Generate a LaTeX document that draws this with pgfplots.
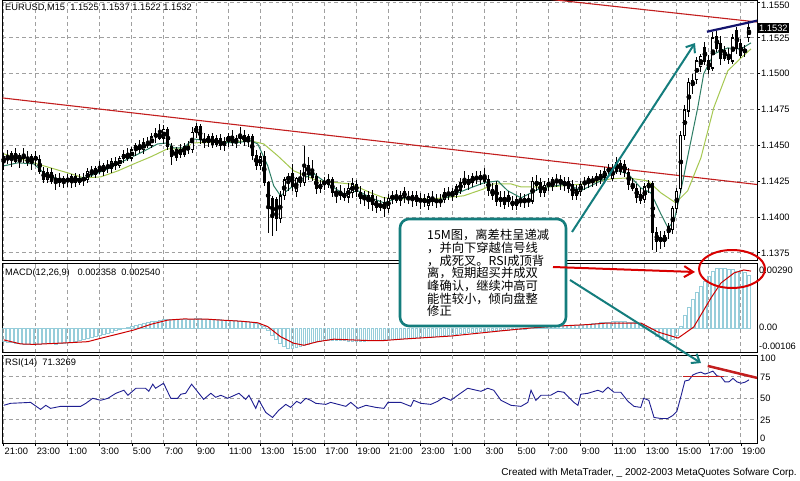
\documentclass[border=0pt]{standalone}
\usepackage{fontspec}
\setmainfont{Liberation Sans}
\newfontfamily\cjk{Noto Sans CJK SC}
\usepackage{pgfplots}
\usepackage{pgfplotstable}
\pgfplotsset{compat=1.18}
\usetikzlibrary{arrows.meta}

\definecolor{gridc}{RGB}{160,160,160}
\definecolor{trend}{RGB}{195,30,30}
\definecolor{mafast}{RGB}{45,125,100}
\definecolor{maslow}{RGB}{165,200,80}
\definecolor{histc}{RGB}{150,205,218}
\definecolor{sigc}{RGB}{205,0,0}
\definecolor{rsic}{RGB}{30,30,145}
\definecolor{tealc}{RGB}{20,125,125}
\definecolor{navyc}{RGB}{20,20,110}

\newcommand\mt{\fontsize{9.3pt}{11pt}\selectfont}

% M15 candles: bar index, open, high, low, close
\pgfplotstableread{
b o h l c
0 1.1438 1.1445 1.1433 1.1442
1 1.1442 1.1447 1.1437 1.1440
2 1.1440 1.1446 1.1435 1.1444
3 1.1444 1.1448 1.1438 1.1439
4 1.1439 1.1445 1.1434 1.1443
5 1.1443 1.1448 1.1438 1.1441
6 1.1441 1.1446 1.1436 1.1438
7 1.1438 1.1444 1.1433 1.1442
8 1.1442 1.1446 1.1436 1.1440
9 1.1440 1.1443 1.1430 1.1432
10 1.1432 1.1435 1.1424 1.1426
11 1.1426 1.1434 1.1424 1.1431
12 1.1431 1.1434 1.1423 1.1425
13 1.1425 1.1430 1.1419 1.1427
14 1.1427 1.1431 1.1421 1.1424
15 1.1424 1.1429 1.1420 1.1427
16 1.1427 1.1430 1.1421 1.1425
17 1.1425 1.1430 1.1420 1.1428
18 1.1428 1.1431 1.1421 1.1424
19 1.1424 1.1430 1.1422 1.1427
20 1.1427 1.1431 1.1422 1.1426
21 1.1426 1.1434 1.1424 1.1432
22 1.1432 1.1436 1.1428 1.1430
23 1.1430 1.1436 1.1427 1.1434
24 1.1434 1.1439 1.1430 1.1432
25 1.1432 1.1438 1.1429 1.1436
26 1.1436 1.1440 1.1431 1.1434
27 1.1434 1.1441 1.1431 1.1439
28 1.1439 1.1442 1.1433 1.1436
29 1.1436 1.1443 1.1434 1.1441
30 1.1441 1.1447 1.1438 1.1444
31 1.1444 1.1448 1.1439 1.1441
32 1.1441 1.1449 1.1439 1.1447
33 1.1447 1.1452 1.1443 1.1450
34 1.1450 1.1454 1.1445 1.1447
35 1.1447 1.1455 1.1444 1.1452
36 1.1452 1.1456 1.1448 1.1450
37 1.1450 1.1459 1.1448 1.1456
38 1.1456 1.1462 1.1452 1.1458
39 1.1458 1.1465 1.1454 1.1455
40 1.1455 1.1464 1.1451 1.1461
41 1.1461 1.1463 1.1447 1.1449
42 1.1449 1.1452 1.1436 1.1442
43 1.1442 1.1449 1.1439 1.1447
44 1.1447 1.1451 1.1441 1.1444
45 1.1444 1.1452 1.1442 1.1449
46 1.1449 1.1453 1.1444 1.1447
47 1.1447 1.1463 1.1445 1.1459
48 1.1459 1.1466 1.1455 1.1463
49 1.1463 1.1465 1.1451 1.1454
50 1.1454 1.1459 1.1448 1.1452
51 1.1452 1.1458 1.1449 1.1456
52 1.1456 1.1459 1.1448 1.1451
53 1.1451 1.1457 1.1449 1.1455
54 1.1455 1.1458 1.1447 1.1450
55 1.1450 1.1456 1.1446 1.1453
56 1.1453 1.1459 1.1449 1.1456
57 1.1456 1.1461 1.1450 1.1452
58 1.1452 1.1457 1.1448 1.1455
59 1.1455 1.1463 1.1451 1.1457
60 1.1457 1.1461 1.1450 1.1453
61 1.1453 1.1458 1.1449 1.1456
62 1.1456 1.1458 1.1440 1.1443
63 1.1443 1.1447 1.1433 1.1436
64 1.1436 1.1445 1.1433 1.1442
65 1.1442 1.1446 1.1422 1.1424
66 1.1424 1.1425 1.1389 1.1406
67 1.1413 1.1415 1.1387 1.1400
68 1.1412 1.1414 1.1390 1.1399
69 1.1399 1.1418 1.1396 1.1415
70 1.1415 1.1428 1.1412 1.1426
71 1.1426 1.1431 1.1418 1.1428
72 1.1430 1.1437 1.1418 1.1421
73 1.1418 1.1428 1.1414 1.1427
74 1.1427 1.1433 1.1421 1.1424
75 1.1424 1.1450 1.1422 1.1436
76 1.1436 1.1442 1.1426 1.1430
77 1.1433 1.1440 1.1425 1.1428
78 1.1428 1.1431 1.1416 1.1420
79 1.1420 1.1426 1.1417 1.1423
80 1.1423 1.1428 1.1419 1.1425
81 1.1423 1.1430 1.1420 1.1426
82 1.1426 1.1428 1.1414 1.1417
83 1.1416 1.1421 1.1410 1.1418
84 1.1418 1.1422 1.1412 1.1415
85 1.1416 1.1420 1.1411 1.1414
86 1.1414 1.1424 1.1410 1.1420
87 1.1417 1.1427 1.1413 1.1423
88 1.1423 1.1426 1.1414 1.1418
89 1.1417 1.1422 1.1409 1.1413
90 1.1413 1.1418 1.1408 1.1415
91 1.1411 1.1418 1.1406 1.1415
92 1.1415 1.1419 1.1404 1.1409
93 1.1411 1.1415 1.1403 1.1407
94 1.1407 1.1412 1.1404 1.1409
95 1.1410 1.1414 1.1400 1.1406
96 1.1406 1.1416 1.1403 1.1413
97 1.1413 1.1418 1.1409 1.1415
98 1.1415 1.1419 1.1410 1.1412
99 1.1412 1.1418 1.1408 1.1415
100 1.1418 1.1421 1.1410 1.1414
101 1.1414 1.1418 1.1409 1.1412
102 1.1412 1.1418 1.1407 1.1415
103 1.1415 1.1418 1.1408 1.1411
104 1.1411 1.1417 1.1406 1.1413
105 1.1413 1.1416 1.1407 1.1410
106 1.1408 1.1417 1.1405 1.1414
107 1.1414 1.1418 1.1408 1.1411
108 1.1411 1.1416 1.1406 1.1412
109 1.1412 1.1416 1.1407 1.1410
110 1.1412 1.1420 1.1410 1.1417
111 1.1417 1.1421 1.1412 1.1415
112 1.1415 1.1420 1.1411 1.1418
113 1.1416 1.1423 1.1413 1.1421
114 1.1419 1.1427 1.1416 1.1424
115 1.1426 1.1432 1.1420 1.1423
116 1.1423 1.1429 1.1419 1.1426
117 1.1424 1.1431 1.1421 1.1428
118 1.1428 1.1432 1.1423 1.1426
119 1.1426 1.1432 1.1422 1.1429
120 1.1429 1.1434 1.1423 1.1425
121 1.1426 1.1429 1.1415 1.1419
122 1.1419 1.1424 1.1412 1.1415
123 1.1422 1.1425 1.1408 1.1411
124 1.1411 1.1418 1.1407 1.1414
125 1.1414 1.1418 1.1406 1.1409
126 1.1415 1.1418 1.1407 1.1411
127 1.1411 1.1415 1.1405 1.1408
128 1.1408 1.1415 1.1405 1.1412
129 1.1412 1.1417 1.1407 1.1410
130 1.1410 1.1416 1.1406 1.1413
131 1.1413 1.1416 1.1407 1.1411
132 1.1411 1.1428 1.1409 1.1425
133 1.1425 1.1429 1.1418 1.1422
134 1.1424 1.1427 1.1414 1.1417
135 1.1417 1.1425 1.1414 1.1422
136 1.1422 1.1427 1.1418 1.1424
137 1.1421 1.1428 1.1418 1.1426
138 1.1426 1.1430 1.1421 1.1424
139 1.1424 1.1429 1.1419 1.1426
140 1.1422 1.1428 1.1418 1.1425
141 1.1425 1.1428 1.1417 1.1420
142 1.1423 1.1426 1.1412 1.1415
143 1.1415 1.1422 1.1412 1.1419
144 1.1418 1.1425 1.1415 1.1423
145 1.1423 1.1428 1.1419 1.1425
146 1.1424 1.1429 1.1420 1.1427
147 1.1425 1.1429 1.1421 1.1426
148 1.1426 1.1431 1.1422 1.1428
149 1.1426 1.1433 1.1423 1.1430
150 1.1428 1.1435 1.1424 1.1432
151 1.1432 1.1437 1.1428 1.1434
152 1.1427 1.1437 1.1425 1.1434
153 1.1438 1.1442 1.1430 1.1432
154 1.1432 1.1440 1.1429 1.1437
155 1.1437 1.1440 1.1428 1.1431
156 1.1431 1.1434 1.1419 1.1423
157 1.1423 1.1427 1.1418 1.1420
158 1.1420 1.1423 1.1410 1.1414
159 1.1416 1.1420 1.1409 1.1412
160 1.1412 1.1424 1.1410 1.1421
161 1.1421 1.1426 1.1417 1.1423
162 1.1423 1.1425 1.1377 1.1389
163 1.1389 1.1393 1.1376 1.1383
164 1.1383 1.1390 1.1378 1.1386
165 1.1383 1.1390 1.1379 1.1387
166 1.1393 1.1396 1.1385 1.1389
167 1.1391 1.1408 1.1388 1.1406
168 1.1406 1.1420 1.1403 1.1418
169 1.1420 1.1460 1.1417 1.1457
170 1.1457 1.1478 1.1454 1.1475
171 1.1474 1.1497 1.1470 1.1494
172 1.1492 1.1500 1.1486 1.1495
173 1.1496 1.1512 1.1493 1.1509
174 1.1505 1.1514 1.1501 1.1512
175 1.1518 1.1522 1.1506 1.1509
176 1.1509 1.1513 1.1500 1.1503
177 1.1504 1.1529 1.1502 1.1525
178 1.1526 1.1530 1.1515 1.1518
179 1.1521 1.1526 1.1506 1.1511
180 1.1516 1.1519 1.1509 1.1511
181 1.1513 1.1518 1.1507 1.1510
182 1.1509 1.1528 1.1507 1.1525
183 1.1530 1.1533 1.1514 1.1518
184 1.1521 1.1524 1.1511 1.1513
185 1.1515 1.1520 1.1512 1.1517
186 1.1525 1.1537 1.1522 1.1532
}\candles

% MACD(12,26,9) main value per bar
\pgfplotstableread{
v
-0.00060
-0.00062
-0.00064
-0.00066
-0.00068
-0.00070
-0.00072
-0.00073
-0.00072
-0.00070
-0.00068
-0.00068
-0.00069
-0.00070
-0.00069
-0.00067
-0.00065
-0.00062
-0.00060
-0.00056
-0.00052
-0.00047
-0.00042
-0.00037
-0.00032
-0.00027
-0.00022
-0.00017
-0.00012
-0.00007
-0.00002
0.00003
0.00008
0.00012
0.00016
0.00020
0.00024
0.00028
0.00031
0.00034
0.00037
0.00038
0.00038
0.00037
0.00037
0.00038
0.00039
0.00041
0.00042
0.00042
0.00041
0.00040
0.00039
0.00038
0.00037
0.00036
0.00035
0.00034
0.00033
0.00032
0.00031
0.00030
0.00027
0.00022
0.00016
0.00008
-0.00010
-0.00030
-0.00050
-0.00068
-0.00080
-0.00088
-0.00090
-0.00087
-0.00082
-0.00076
-0.00070
-0.00065
-0.00061
-0.00058
-0.00056
-0.00055
-0.00054
-0.00054
-0.00055
-0.00056
-0.00057
-0.00058
-0.00058
-0.00058
-0.00057
-0.00056
-0.00055
-0.00054
-0.00053
-0.00052
-0.00051
-0.00050
-0.00049
-0.00048
-0.00046
-0.00045
-0.00044
-0.00043
-0.00042
-0.00041
-0.00040
-0.00039
-0.00037
-0.00035
-0.00033
-0.00031
-0.00029
-0.00027
-0.00025
-0.00023
-0.00021
-0.00019
-0.00017
-0.00015
-0.00014
-0.00013
-0.00012
-0.00011
-0.00010
-0.00009
-0.00008
-0.00007
-0.00006
-0.00005
-0.00004
-0.00003
-0.00001
0.00002
0.00004
0.00006
0.00008
0.00010
0.00011
0.00012
0.00012
0.00012
0.00012
0.00013
0.00014
0.00016
0.00018
0.00020
0.00022
0.00024
0.00026
0.00027
0.00028
0.00029
0.00029
0.00028
0.00026
0.00024
0.00020
0.00015
0.00012
0.00005
-0.00015
-0.00035
-0.00048
-0.00054
-0.00055
-0.00048
-0.00030
0.00010
0.00059
0.00094
0.00128
0.00160
0.00186
0.00208
0.00232
0.00252
0.00264
0.00268
0.00266
0.00262
0.00260
0.00252
0.00255
0.00246
0.00236
}\macdhist

\tikzset{gridline/.style={draw=gridc, line width=1pt, dash pattern=on 3.5pt off 3pt}}

\pgfplotsset{
  mtpanel/.style={
    scale only axis, width=754.5pt,
    xmin=-0.3, xmax=188,
    axis line style={line width=0.9pt},
    xtick={0,8,...,184}, xticklabels={},
    tick align=outside, major tick length=3pt,
    xmajorticks=false,
  },
  candle/.style={only marks, mark=none, forget plot,
    error bars/.cd, y dir=both, y explicit, error mark=none},
}
% vertical time grid: every two hours (8 bars)
\newcommand\timegrid[2]{%
  \pgfplotsinvokeforeach{0,8,...,184}{\draw[gridline] (axis cs:##1,#1) -- (axis cs:##1,#2);}}

\begin{document}
\begin{tikzpicture}
\path[use as bounding box, fill=white] (0,0) rectangle (800pt,-481pt);

% ---- price panel ----
\begin{axis}[mtpanel, at={(2.5pt,-260pt)}, anchor=south west,
  height=259.5pt, ymin=1.1370, ymax=1.15511,
  ytick={1.1375,1.14,1.1425,1.145,1.1475,1.15,1.1525,1.155},
  yticklabels={1.1375,1.1400,1.1425,1.1450,1.1475,1.1500,1.1525,},
  ytick pos=right, yticklabel pos=right,
  ytick style={black, line width=0.8pt, solid},
  yticklabel style={font=\mt, anchor=west, inner xsep=1pt}]
\timegrid{1.1370}{1.15511}
\pgfplotsinvokeforeach{1.1375,1.14,1.1425,1.145,1.1475,1.15,1.1525,1.155}{
  \draw[gridline] (axis cs:-0.3,#1) -- (axis cs:188,#1);}
% trend lines
\addplot[trend, line width=1.1pt] coordinates {(-0.3,1.14831) (188,1.14227)};
\addplot[trend, line width=1.1pt] coordinates {(134.1,1.15526) (188,1.15361)};
% moving averages
\addplot[maslow, line width=1pt] coordinates {
(0,1.14441) (7.5,1.14378) (11.7,1.14343) (16.0,1.14308) (20.0,1.14273)
(24.2,1.14280) (28.5,1.14322) (32.5,1.14371) (36.7,1.14420) (40.9,1.14476)
(44.9,1.14476) (47.4,1.14517) (53.4,1.14524) (61.7,1.14531) (64.9,1.14510)
(68.4,1.14427) (72.4,1.14322) (78.4,1.14252) (86.6,1.14231) (91.6,1.14169)
(94.9,1.14134) (99.1,1.14127) (107.3,1.14127) (114.8,1.14148) (119.8,1.14196)
(122.3,1.14231) (126.6,1.14231) (129.1,1.14210) (136.5,1.14210) (144.8,1.14231)
(151.5,1.14266) (155.8,1.14273) (160.8,1.14252) (164.0,1.14169) (167.7,1.14099)
(170.7,1.14183) (174.0,1.14413) (177.2,1.14762) (180.7,1.15020) (184.0,1.15110)
(186.5,1.15173)};
\addplot[mafast, line width=1pt] coordinates {
(0,1.14357) (3.5,1.14378) (7.5,1.14371) (10.0,1.14308) (13.5,1.14266)
(17.5,1.14259) (21.7,1.14287) (26.0,1.14336) (30.0,1.14392) (34.2,1.14448)
(38.4,1.14510) (40.9,1.14517) (42.4,1.14483) (44.9,1.14483) (47.4,1.14545)
(50.9,1.14531) (57.4,1.14517) (61.7,1.14531) (63.4,1.14510) (65.9,1.14357)
(67.4,1.14217) (69.1,1.14148) (71.6,1.14203) (74.9,1.14273) (77.4,1.14301)
(80.9,1.14231) (84.8,1.14162) (88.4,1.14183) (91.6,1.14134) (94.9,1.14099)
(98.4,1.14134) (103.3,1.14127) (108.3,1.14113) (111.6,1.14148) (115.8,1.14196)
(119.8,1.14238) (123.3,1.14252) (125.8,1.14183) (129.1,1.14134) (134.1,1.14203)
(140.8,1.14231) (144.0,1.14183) (149.0,1.14252) (153.3,1.14322) (155.8,1.14301)
(159.0,1.14203) (161.5,1.14169) (164.0,1.14022) (165.8,1.13924) (167.3,1.13973)
(169.0,1.14183) (171.0,1.14462) (173.2,1.14762) (174.7,1.14999) (177.2,1.15138)
(180.7,1.15180) (184.0,1.15173) (186.5,1.15215)};
% candles: wicks, bodies, hollow up-bodies
\addplot[candle, error bar style={draw=black, solid, line width=1pt}]
  table[x=b, y expr={(\thisrow{h}+\thisrow{l})/2},
        y error expr={(\thisrow{h}-\thisrow{l})/2}] {\candles};
\addplot[candle, error bar style={draw=black, solid, line width=3pt, line cap=butt}]
  table[x=b, y expr={(\thisrow{o}+\thisrow{c})/2},
        y error expr={abs(\thisrow{c}-\thisrow{o})/2+0.00004}] {\candles};
\addplot[candle, error bar style={draw=white, solid, line width=1.2pt, line cap=butt}]
  table[x=b, y expr={(\thisrow{o}+\thisrow{c})/2},
        y error expr={max(\thisrow{c}-\thisrow{o}-0.00012,0)/2}] {\candles};
% top line drawn over the highs
\addplot[navyc, line width=2.2pt] coordinates {(175.5,1.15293) (188,1.15370)};
\end{axis}

% ---- MACD panel ----
\begin{axis}[mtpanel, at={(2.5pt,-352pt)}, anchor=south west,
  height=89pt, ymin=-0.00106, ymax=0.0029, ytick=\empty]
\timegrid{-0.00106}{0.0029}
\addplot[ybar, bar width=2.6pt, draw=histc, fill=none, line width=0.8pt, forget plot]
  table[x expr=\coordindex, y=v] {\macdhist};
\addplot[sigc, line width=1pt] coordinates {
(0,-0.00052) (4.2,-0.00070) (7.5,-0.00072) (16.0,-0.00065) (21.0,-0.00060)
(24.2,-0.00045) (28.5,-0.00026) (32.5,-0.00008) (36.7,0.00017) (40.9,0.00036)
(44.9,0.00041) (50.9,0.00040) (54.2,0.00036) (59.2,0.00031) (63.4,0.00024)
(65.9,0.00007) (69.1,-0.00038) (72.4,-0.00067) (74.9,-0.00076) (78.4,-0.00060)
(82.4,-0.00049) (86.6,-0.00052) (90.9,-0.00055) (94.9,-0.00055) (99.1,-0.00049)
(111.6,-0.00035) (124.1,-0.00012) (131.6,0.00001) (139.0,0.00010) (145.8,0.00016)
(150.0,0.00022) (159.0,0.00023) (163.3,-0.00017) (168.3,-0.00044) (172.2,0.00005)
(176.5,0.00134) (179.0,0.00201) (182.3,0.00246) (184.7,0.00259) (186.5,0.00254)};
\end{axis}

% ---- RSI panel ----
\begin{axis}[mtpanel, at={(2.5pt,-443pt)}, anchor=south west,
  height=88pt, ymin=-1.6, ymax=100,
  ytick=\empty, xmajorticks=true, xtick pos=bottom,
  xticklabels={21:00,23:00,1:00,3:00,5:00,7:00,9:00,11:00,13:00,15:00,17:00,19:00,
               21:00,23:00,1:00,3:00,5:00,7:00,9:00,11:00,13:00,15:00,17:00,19:00},
  xtick style={black, line width=0.8pt, solid},
  xticklabel style={font=\mt, anchor=north west, xshift=-2.5pt, inner ysep=2pt}]
\timegrid{-1.6}{100}
\pgfplotsinvokeforeach{25,50,75}{
  \draw[gridline] (axis cs:-0.3,#1) -- (axis cs:188,#1);}
\addplot[rsic, line width=0.9pt] coordinates {
(0,41.9) (1.7,44.2) (6.7,45.3) (9.2,37.2) (10.5,41.9) (11.7,38.4) (14.2,40.7)
(19.2,40.7) (20.5,44.2) (22.2,50.0) (24.2,47.7) (26.0,50.0) (28.0,55.8) (30.0,59.3)
(31.0,53.5) (33.0,61.6) (35.4,61.6) (36.2,58.1) (37.2,66.3) (37.9,61.6) (39.9,67.4)
(41.7,50.0) (43.4,50.0) (44.2,54.7) (45.4,55.8) (46.9,66.3) (48.7,55.8) (49.9,48.8)
(51.7,55.8) (52.9,51.2) (54.2,53.5) (55.9,50.0) (58.7,55.8) (60.4,48.8) (61.2,53.5)
(62.9,38.4) (63.7,47.7) (65.4,33.7) (67.1,27.9) (68.6,36.0) (70.4,43.0) (71.6,39.5)
(73.1,46.5) (74.1,44.2) (75.4,50.0) (76.6,47.7) (77.9,44.2) (80.4,43.0) (81.6,45.3)
(85.4,40.7) (86.6,45.3) (88.4,38.4) (90.4,41.9) (92.9,39.5) (94.9,38.4) (95.9,45.3)
(99.1,45.3) (101.6,40.7) (102.3,47.7) (104.1,44.2) (106.6,43.0) (108.3,46.5)
(109.8,51.2) (111.6,47.7) (113.3,53.5) (115.8,61.6) (119.1,58.1) (120.8,61.6)
(122.3,59.3) (124.1,47.7) (126.6,41.9) (129.1,40.7) (130.8,45.3) (131.6,59.3)
(132.8,47.7) (134.1,53.5) (136.5,53.5) (138.3,58.1) (139.8,57.0) (142.3,45.3)
(143.3,41.9) (144.0,54.7) (145.8,55.8) (148.3,59.3) (149.5,57.0) (150.8,62.8)
(152.3,57.0) (154.0,57.0) (155.8,46.5) (157.3,40.7) (159.0,39.5) (159.7,50.0)
(161.0,47.7) (162.3,27.9) (164.0,26.7) (165.7,26.7) (167.0,30.2) (168.0,35.0)
(169.0,52.0) (170.0,70.0) (171.0,71.0) (172.0,77.0) (173.0,79.0) (174.0,80.2)
(175.0,78.0) (176.0,79.5) (177.0,81.4) (178.0,76.0) (179.0,75.0) (180.0,69.0)
(181.0,69.0) (182.0,73.0) (183.0,69.0) (184.0,67.4) (185.0,68.6) (186.0,71.3)};
\addplot[trend, line width=1pt] coordinates {(169.5,75) (179.7,75)};
\addplot[trend, line width=2.5pt] coordinates {(175.7,87.4) (188,73.6)};
\end{axis}

% ---- labels and drawn annotations, in pixel coordinates ----
\begin{scope}[x=1pt, y=-1pt]
\node[anchor=west, font=\mt, inner sep=0] at (5,8) {EURUSD,M15\ \ 1.1525 1.1537 1.1522 1.1532};
\node[anchor=west, font=\mt, inner sep=0] at (761,5.5) {1.1550};
\node[anchor=west, font=\mt, inner sep=0] at (5,273) {MACD(12,26,9)\ \ \ 0.002358\ \ 0.002540};
\node[anchor=west, font=\mt, inner sep=0] at (5,363) {RSI(14)\ \ 71.3269};
\node[anchor=west, fill=black, text=white, font=\mt, inner xsep=1.5pt, inner ysep=1.5pt] at (757.5,28) {1.1532};
\foreach \yy/\tt in {270/0.00290, 327.5/0.00, 346.5/-0.00106}
  \node[anchor=west, font=\mt, inner sep=0] at (759,\yy) {\tt};
\foreach \yy/\tt in {358/100, 377/75, 398/50, 420/25, 438/0}
  \node[anchor=west, font=\mt, inner sep=0] at (760,\yy) {\tt};
\node[anchor=east, font=\fontsize{10pt}{12pt}\selectfont, inner sep=0] at (797,473)
  {Created with MetaTrader, \_ 2002-2003 MetaQuotes Sofware Corp.};

% annotation box
\draw[tealc, line width=2.6pt, rounded corners=9pt, fill=white] (400,219) rectangle (566,326);
\node[anchor=north west, align=left, inner sep=0,
      font=\cjk\fontsize{12.3pt}{11.6pt}\selectfont] at (427,229)
  {15M图，离差柱呈递减\\，并向下穿越信号线\\，成死叉。RSI成顶背\\离，短期超买并成双\\峰确认，继续冲高可\\能性较小，倾向盘整\\修正};
% arrows
\draw[tealc, line width=2pt, -{Straight Barb[length=7pt, width=11pt]}] (572,232) -- (695,43);
\draw[tealc, line width=2pt, -{Straight Barb[length=7pt, width=11pt]}] (570,280) -- (701,363);
\draw[red!85!black, line width=2pt, -{Straight Barb[length=9pt, width=11pt]}] (553,267) -- (695,272);
\draw[red!85!black, line width=2pt] (732,269) ellipse [x radius=33, y radius=19];
\end{scope}
\end{tikzpicture}
\end{document}
